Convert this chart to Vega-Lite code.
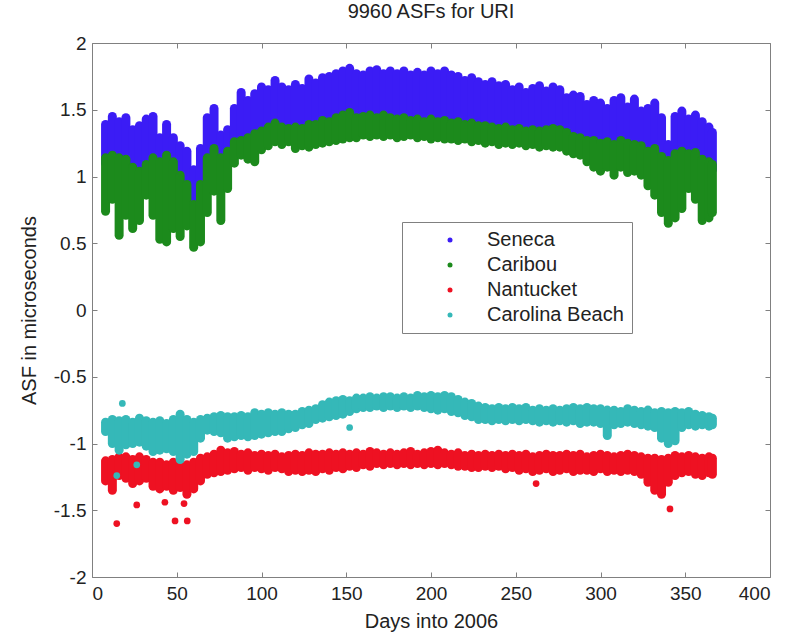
{
"$schema":"https://vega.github.io/schema/vega-lite/v6.json",
"width":678,"height":534,
"autosize":"none",
"padding":{"left":92,"top":43,"right":32,"bottom":60},
"background":"white",
"title":{"text":"9960 ASFs for URI","fontSize":20,"font":"Liberation Sans","fontWeight":"normal","color":"#222222","offset":12},
"config":{
"view":{"stroke":"#808080","strokeWidth":1},
"font":"Liberation Sans",
"axis":{"grid":false,"domain":false,"tickColor":"#808080","tickSize":-5,"labelFont":"Liberation Sans","labelFontSize":19,"labelColor":"#222222","titleFont":"Liberation Sans","titleFontSize":20,"titleFontWeight":"normal","titleColor":"#222222"}
},
"datasets":{
"bands":[
{"day":8,"site":"Seneca","lo":1.10,"hi":1.39},{"day":12,"site":"Seneca","lo":1.12,"hi":1.45},{"day":16,"site":"Seneca","lo":1.10,"hi":1.41},{"day":20,"site":"Seneca","lo":1.09,"hi":1.44},{"day":24,"site":"Seneca","lo":1.03,"hi":1.35},{"day":28,"site":"Seneca","lo":1.00,"hi":1.38},{"day":32,"site":"Seneca","lo":1.05,"hi":1.43},{"day":36,"site":"Seneca","lo":1.10,"hi":1.45},{"day":40,"site":"Seneca","lo":1.07,"hi":1.29},{"day":44,"site":"Seneca","lo":1.12,"hi":1.39},{"day":48,"site":"Seneca","lo":1.07,"hi":1.29},{"day":52,"site":"Seneca","lo":0.97,"hi":1.23},{"day":56,"site":"Seneca","lo":0.90,"hi":1.19},{"day":60,"site":"Seneca","lo":0.78,"hi":1.05},{"day":64,"site":"Seneca","lo":0.90,"hi":1.21},{"day":68,"site":"Seneca","lo":1.10,"hi":1.44},{"day":72,"site":"Seneca","lo":1.17,"hi":1.51},{"day":76,"site":"Seneca","lo":1.10,"hi":1.31},{"day":80,"site":"Seneca","lo":1.15,"hi":1.35},{"day":84,"site":"Seneca","lo":1.22,"hi":1.51},{"day":88,"site":"Seneca","lo":1.23,"hi":1.63},{"day":92,"site":"Seneca","lo":1.25,"hi":1.57},{"day":96,"site":"Seneca","lo":1.28,"hi":1.62},{"day":100,"site":"Seneca","lo":1.30,"hi":1.67},{"day":104,"site":"Seneca","lo":1.33,"hi":1.65},{"day":108,"site":"Seneca","lo":1.36,"hi":1.72},{"day":112,"site":"Seneca","lo":1.33,"hi":1.67},{"day":116,"site":"Seneca","lo":1.32,"hi":1.65},{"day":120,"site":"Seneca","lo":1.33,"hi":1.69},{"day":124,"site":"Seneca","lo":1.32,"hi":1.66},{"day":128,"site":"Seneca","lo":1.35,"hi":1.73},{"day":132,"site":"Seneca","lo":1.35,"hi":1.70},{"day":136,"site":"Seneca","lo":1.38,"hi":1.74},{"day":140,"site":"Seneca","lo":1.37,"hi":1.75},{"day":144,"site":"Seneca","lo":1.40,"hi":1.77},{"day":148,"site":"Seneca","lo":1.42,"hi":1.79},{"day":152,"site":"Seneca","lo":1.44,"hi":1.81},{"day":156,"site":"Seneca","lo":1.40,"hi":1.77},{"day":160,"site":"Seneca","lo":1.41,"hi":1.76},{"day":164,"site":"Seneca","lo":1.42,"hi":1.79},{"day":168,"site":"Seneca","lo":1.40,"hi":1.80},{"day":172,"site":"Seneca","lo":1.42,"hi":1.77},{"day":176,"site":"Seneca","lo":1.40,"hi":1.79},{"day":180,"site":"Seneca","lo":1.39,"hi":1.77},{"day":184,"site":"Seneca","lo":1.40,"hi":1.79},{"day":188,"site":"Seneca","lo":1.38,"hi":1.76},{"day":192,"site":"Seneca","lo":1.39,"hi":1.78},{"day":196,"site":"Seneca","lo":1.37,"hi":1.76},{"day":200,"site":"Seneca","lo":1.39,"hi":1.79},{"day":204,"site":"Seneca","lo":1.37,"hi":1.77},{"day":208,"site":"Seneca","lo":1.38,"hi":1.79},{"day":212,"site":"Seneca","lo":1.36,"hi":1.76},{"day":216,"site":"Seneca","lo":1.37,"hi":1.75},{"day":220,"site":"Seneca","lo":1.35,"hi":1.72},{"day":224,"site":"Seneca","lo":1.36,"hi":1.74},{"day":228,"site":"Seneca","lo":1.34,"hi":1.71},{"day":232,"site":"Seneca","lo":1.34,"hi":1.69},{"day":236,"site":"Seneca","lo":1.33,"hi":1.71},{"day":240,"site":"Seneca","lo":1.32,"hi":1.68},{"day":244,"site":"Seneca","lo":1.33,"hi":1.69},{"day":248,"site":"Seneca","lo":1.31,"hi":1.65},{"day":252,"site":"Seneca","lo":1.32,"hi":1.67},{"day":256,"site":"Seneca","lo":1.30,"hi":1.63},{"day":260,"site":"Seneca","lo":1.31,"hi":1.66},{"day":264,"site":"Seneca","lo":1.30,"hi":1.68},{"day":268,"site":"Seneca","lo":1.31,"hi":1.64},{"day":272,"site":"Seneca","lo":1.32,"hi":1.67},{"day":276,"site":"Seneca","lo":1.31,"hi":1.65},{"day":280,"site":"Seneca","lo":1.29,"hi":1.59},{"day":284,"site":"Seneca","lo":1.26,"hi":1.61},{"day":288,"site":"Seneca","lo":1.25,"hi":1.60},{"day":292,"site":"Seneca","lo":1.23,"hi":1.54},{"day":296,"site":"Seneca","lo":1.23,"hi":1.57},{"day":300,"site":"Seneca","lo":1.21,"hi":1.55},{"day":304,"site":"Seneca","lo":1.22,"hi":1.51},{"day":308,"site":"Seneca","lo":1.20,"hi":1.57},{"day":312,"site":"Seneca","lo":1.23,"hi":1.59},{"day":316,"site":"Seneca","lo":1.21,"hi":1.52},{"day":320,"site":"Seneca","lo":1.20,"hi":1.58},{"day":324,"site":"Seneca","lo":1.19,"hi":1.49},{"day":328,"site":"Seneca","lo":1.15,"hi":1.51},{"day":332,"site":"Seneca","lo":1.17,"hi":1.55},{"day":336,"site":"Seneca","lo":1.11,"hi":1.44},{"day":340,"site":"Seneca","lo":1.08,"hi":1.24},{"day":344,"site":"Seneca","lo":1.13,"hi":1.45},{"day":348,"site":"Seneca","lo":1.15,"hi":1.49},{"day":352,"site":"Seneca","lo":1.13,"hi":1.43},{"day":356,"site":"Seneca","lo":1.14,"hi":1.46},{"day":360,"site":"Seneca","lo":1.09,"hi":1.41},{"day":364,"site":"Seneca","lo":1.07,"hi":1.37},{"day":366,"site":"Seneca","lo":1.05,"hi":1.33},
{"day":8,"site":"Caribou","lo":0.74,"hi":1.14},{"day":12,"site":"Caribou","lo":0.83,"hi":1.16},{"day":16,"site":"Caribou","lo":0.56,"hi":1.14},{"day":20,"site":"Caribou","lo":0.71,"hi":1.13},{"day":24,"site":"Caribou","lo":0.61,"hi":1.07},{"day":28,"site":"Caribou","lo":0.67,"hi":1.04},{"day":32,"site":"Caribou","lo":0.86,"hi":1.09},{"day":36,"site":"Caribou","lo":0.71,"hi":1.14},{"day":40,"site":"Caribou","lo":0.53,"hi":1.11},{"day":44,"site":"Caribou","lo":0.51,"hi":1.16},{"day":48,"site":"Caribou","lo":0.61,"hi":1.11},{"day":52,"site":"Caribou","lo":0.55,"hi":1.01},{"day":56,"site":"Caribou","lo":0.63,"hi":0.94},{"day":60,"site":"Caribou","lo":0.47,"hi":0.79},{"day":64,"site":"Caribou","lo":0.51,"hi":0.94},{"day":68,"site":"Caribou","lo":0.73,"hi":1.14},{"day":72,"site":"Caribou","lo":0.89,"hi":1.21},{"day":76,"site":"Caribou","lo":0.67,"hi":1.14},{"day":80,"site":"Caribou","lo":0.91,"hi":1.19},{"day":84,"site":"Caribou","lo":1.10,"hi":1.26},{"day":88,"site":"Caribou","lo":1.16,"hi":1.27},{"day":92,"site":"Caribou","lo":1.13,"hi":1.29},{"day":96,"site":"Caribou","lo":1.11,"hi":1.32},{"day":100,"site":"Caribou","lo":1.20,"hi":1.34},{"day":104,"site":"Caribou","lo":1.23,"hi":1.37},{"day":108,"site":"Caribou","lo":1.26,"hi":1.40},{"day":112,"site":"Caribou","lo":1.24,"hi":1.37},{"day":116,"site":"Caribou","lo":1.26,"hi":1.36},{"day":120,"site":"Caribou","lo":1.21,"hi":1.37},{"day":124,"site":"Caribou","lo":1.23,"hi":1.36},{"day":128,"site":"Caribou","lo":1.22,"hi":1.39},{"day":132,"site":"Caribou","lo":1.24,"hi":1.39},{"day":136,"site":"Caribou","lo":1.25,"hi":1.42},{"day":140,"site":"Caribou","lo":1.26,"hi":1.41},{"day":144,"site":"Caribou","lo":1.27,"hi":1.44},{"day":148,"site":"Caribou","lo":1.28,"hi":1.46},{"day":152,"site":"Caribou","lo":1.29,"hi":1.48},{"day":156,"site":"Caribou","lo":1.29,"hi":1.44},{"day":160,"site":"Caribou","lo":1.31,"hi":1.45},{"day":164,"site":"Caribou","lo":1.30,"hi":1.46},{"day":168,"site":"Caribou","lo":1.31,"hi":1.44},{"day":172,"site":"Caribou","lo":1.30,"hi":1.46},{"day":176,"site":"Caribou","lo":1.31,"hi":1.44},{"day":180,"site":"Caribou","lo":1.29,"hi":1.43},{"day":184,"site":"Caribou","lo":1.30,"hi":1.44},{"day":188,"site":"Caribou","lo":1.31,"hi":1.42},{"day":192,"site":"Caribou","lo":1.29,"hi":1.43},{"day":196,"site":"Caribou","lo":1.30,"hi":1.41},{"day":200,"site":"Caribou","lo":1.28,"hi":1.43},{"day":204,"site":"Caribou","lo":1.29,"hi":1.41},{"day":208,"site":"Caribou","lo":1.28,"hi":1.42},{"day":212,"site":"Caribou","lo":1.28,"hi":1.40},{"day":216,"site":"Caribou","lo":1.27,"hi":1.41},{"day":220,"site":"Caribou","lo":1.28,"hi":1.39},{"day":224,"site":"Caribou","lo":1.26,"hi":1.40},{"day":228,"site":"Caribou","lo":1.27,"hi":1.38},{"day":232,"site":"Caribou","lo":1.25,"hi":1.38},{"day":236,"site":"Caribou","lo":1.26,"hi":1.37},{"day":240,"site":"Caribou","lo":1.24,"hi":1.36},{"day":244,"site":"Caribou","lo":1.25,"hi":1.37},{"day":248,"site":"Caribou","lo":1.24,"hi":1.35},{"day":252,"site":"Caribou","lo":1.25,"hi":1.36},{"day":256,"site":"Caribou","lo":1.23,"hi":1.34},{"day":260,"site":"Caribou","lo":1.24,"hi":1.35},{"day":264,"site":"Caribou","lo":1.22,"hi":1.34},{"day":268,"site":"Caribou","lo":1.23,"hi":1.35},{"day":272,"site":"Caribou","lo":1.22,"hi":1.36},{"day":276,"site":"Caribou","lo":1.22,"hi":1.35},{"day":280,"site":"Caribou","lo":1.19,"hi":1.33},{"day":284,"site":"Caribou","lo":1.17,"hi":1.30},{"day":288,"site":"Caribou","lo":1.16,"hi":1.29},{"day":292,"site":"Caribou","lo":1.11,"hi":1.27},{"day":296,"site":"Caribou","lo":1.07,"hi":1.27},{"day":300,"site":"Caribou","lo":1.04,"hi":1.25},{"day":304,"site":"Caribou","lo":1.07,"hi":1.26},{"day":308,"site":"Caribou","lo":1.01,"hi":1.24},{"day":312,"site":"Caribou","lo":1.07,"hi":1.27},{"day":316,"site":"Caribou","lo":1.03,"hi":1.25},{"day":320,"site":"Caribou","lo":1.04,"hi":1.24},{"day":324,"site":"Caribou","lo":1.01,"hi":1.23},{"day":328,"site":"Caribou","lo":0.93,"hi":1.19},{"day":332,"site":"Caribou","lo":0.86,"hi":1.21},{"day":336,"site":"Caribou","lo":0.73,"hi":1.15},{"day":340,"site":"Caribou","lo":0.65,"hi":1.12},{"day":344,"site":"Caribou","lo":0.69,"hi":1.17},{"day":348,"site":"Caribou","lo":0.76,"hi":1.19},{"day":352,"site":"Caribou","lo":0.91,"hi":1.17},{"day":356,"site":"Caribou","lo":0.83,"hi":1.18},{"day":360,"site":"Caribou","lo":0.67,"hi":1.13},{"day":364,"site":"Caribou","lo":0.69,"hi":1.11},{"day":366,"site":"Caribou","lo":0.73,"hi":1.09},
{"day":8,"site":"Nantucket","lo":-1.28,"hi":-1.13},{"day":12,"site":"Nantucket","lo":-1.35,"hi":-1.12},{"day":16,"site":"Nantucket","lo":-1.24,"hi":-1.10},{"day":20,"site":"Nantucket","lo":-1.26,"hi":-1.10},{"day":24,"site":"Nantucket","lo":-1.30,"hi":-1.12},{"day":28,"site":"Nantucket","lo":-1.28,"hi":-1.10},{"day":32,"site":"Nantucket","lo":-1.26,"hi":-1.12},{"day":36,"site":"Nantucket","lo":-1.32,"hi":-1.14},{"day":40,"site":"Nantucket","lo":-1.34,"hi":-1.14},{"day":44,"site":"Nantucket","lo":-1.32,"hi":-1.16},{"day":48,"site":"Nantucket","lo":-1.35,"hi":-1.14},{"day":52,"site":"Nantucket","lo":-1.33,"hi":-1.16},{"day":56,"site":"Nantucket","lo":-1.38,"hi":-1.16},{"day":60,"site":"Nantucket","lo":-1.34,"hi":-1.14},{"day":64,"site":"Nantucket","lo":-1.28,"hi":-1.11},{"day":68,"site":"Nantucket","lo":-1.23,"hi":-1.10},{"day":72,"site":"Nantucket","lo":-1.22,"hi":-1.08},{"day":76,"site":"Nantucket","lo":-1.21,"hi":-1.05},{"day":80,"site":"Nantucket","lo":-1.20,"hi":-1.07},{"day":84,"site":"Nantucket","lo":-1.19,"hi":-1.06},{"day":88,"site":"Nantucket","lo":-1.18,"hi":-1.08},{"day":92,"site":"Nantucket","lo":-1.20,"hi":-1.07},{"day":96,"site":"Nantucket","lo":-1.18,"hi":-1.09},{"day":100,"site":"Nantucket","lo":-1.19,"hi":-1.08},{"day":104,"site":"Nantucket","lo":-1.20,"hi":-1.09},{"day":108,"site":"Nantucket","lo":-1.18,"hi":-1.08},{"day":112,"site":"Nantucket","lo":-1.19,"hi":-1.10},{"day":116,"site":"Nantucket","lo":-1.21,"hi":-1.09},{"day":120,"site":"Nantucket","lo":-1.20,"hi":-1.08},{"day":124,"site":"Nantucket","lo":-1.21,"hi":-1.09},{"day":128,"site":"Nantucket","lo":-1.20,"hi":-1.07},{"day":132,"site":"Nantucket","lo":-1.21,"hi":-1.08},{"day":136,"site":"Nantucket","lo":-1.19,"hi":-1.08},{"day":140,"site":"Nantucket","lo":-1.20,"hi":-1.07},{"day":144,"site":"Nantucket","lo":-1.18,"hi":-1.08},{"day":148,"site":"Nantucket","lo":-1.19,"hi":-1.07},{"day":152,"site":"Nantucket","lo":-1.17,"hi":-1.08},{"day":156,"site":"Nantucket","lo":-1.18,"hi":-1.07},{"day":160,"site":"Nantucket","lo":-1.16,"hi":-1.08},{"day":164,"site":"Nantucket","lo":-1.17,"hi":-1.06},{"day":168,"site":"Nantucket","lo":-1.15,"hi":-1.07},{"day":172,"site":"Nantucket","lo":-1.16,"hi":-1.08},{"day":176,"site":"Nantucket","lo":-1.15,"hi":-1.07},{"day":180,"site":"Nantucket","lo":-1.16,"hi":-1.08},{"day":184,"site":"Nantucket","lo":-1.15,"hi":-1.07},{"day":188,"site":"Nantucket","lo":-1.16,"hi":-1.06},{"day":192,"site":"Nantucket","lo":-1.15,"hi":-1.08},{"day":196,"site":"Nantucket","lo":-1.16,"hi":-1.07},{"day":200,"site":"Nantucket","lo":-1.15,"hi":-1.06},{"day":204,"site":"Nantucket","lo":-1.16,"hi":-1.05},{"day":208,"site":"Nantucket","lo":-1.15,"hi":-1.07},{"day":212,"site":"Nantucket","lo":-1.16,"hi":-1.08},{"day":216,"site":"Nantucket","lo":-1.17,"hi":-1.07},{"day":220,"site":"Nantucket","lo":-1.17,"hi":-1.09},{"day":224,"site":"Nantucket","lo":-1.18,"hi":-1.08},{"day":228,"site":"Nantucket","lo":-1.18,"hi":-1.09},{"day":232,"site":"Nantucket","lo":-1.17,"hi":-1.08},{"day":236,"site":"Nantucket","lo":-1.18,"hi":-1.09},{"day":240,"site":"Nantucket","lo":-1.17,"hi":-1.08},{"day":244,"site":"Nantucket","lo":-1.19,"hi":-1.09},{"day":248,"site":"Nantucket","lo":-1.18,"hi":-1.08},{"day":252,"site":"Nantucket","lo":-1.20,"hi":-1.09},{"day":256,"site":"Nantucket","lo":-1.19,"hi":-1.08},{"day":260,"site":"Nantucket","lo":-1.21,"hi":-1.10},{"day":264,"site":"Nantucket","lo":-1.20,"hi":-1.09},{"day":268,"site":"Nantucket","lo":-1.19,"hi":-1.08},{"day":272,"site":"Nantucket","lo":-1.21,"hi":-1.09},{"day":276,"site":"Nantucket","lo":-1.20,"hi":-1.09},{"day":280,"site":"Nantucket","lo":-1.19,"hi":-1.08},{"day":284,"site":"Nantucket","lo":-1.21,"hi":-1.09},{"day":288,"site":"Nantucket","lo":-1.20,"hi":-1.08},{"day":292,"site":"Nantucket","lo":-1.20,"hi":-1.10},{"day":296,"site":"Nantucket","lo":-1.21,"hi":-1.09},{"day":300,"site":"Nantucket","lo":-1.19,"hi":-1.08},{"day":304,"site":"Nantucket","lo":-1.21,"hi":-1.09},{"day":308,"site":"Nantucket","lo":-1.20,"hi":-1.10},{"day":312,"site":"Nantucket","lo":-1.21,"hi":-1.09},{"day":316,"site":"Nantucket","lo":-1.20,"hi":-1.08},{"day":320,"site":"Nantucket","lo":-1.21,"hi":-1.09},{"day":324,"site":"Nantucket","lo":-1.23,"hi":-1.10},{"day":328,"site":"Nantucket","lo":-1.29,"hi":-1.11},{"day":332,"site":"Nantucket","lo":-1.35,"hi":-1.11},{"day":336,"site":"Nantucket","lo":-1.38,"hi":-1.12},{"day":340,"site":"Nantucket","lo":-1.29,"hi":-1.11},{"day":344,"site":"Nantucket","lo":-1.24,"hi":-1.09},{"day":348,"site":"Nantucket","lo":-1.22,"hi":-1.10},{"day":352,"site":"Nantucket","lo":-1.21,"hi":-1.09},{"day":356,"site":"Nantucket","lo":-1.23,"hi":-1.10},{"day":360,"site":"Nantucket","lo":-1.24,"hi":-1.11},{"day":364,"site":"Nantucket","lo":-1.22,"hi":-1.10},{"day":366,"site":"Nantucket","lo":-1.23,"hi":-1.11},
{"day":8,"site":"Carolina Beach","lo":-0.91,"hi":-0.84},{"day":12,"site":"Carolina Beach","lo":-1.00,"hi":-0.82},{"day":16,"site":"Carolina Beach","lo":-1.05,"hi":-0.83},{"day":20,"site":"Carolina Beach","lo":-1.01,"hi":-0.82},{"day":24,"site":"Carolina Beach","lo":-1.00,"hi":-0.84},{"day":28,"site":"Carolina Beach","lo":-0.99,"hi":-0.81},{"day":32,"site":"Carolina Beach","lo":-1.02,"hi":-0.83},{"day":36,"site":"Carolina Beach","lo":-1.06,"hi":-0.84},{"day":40,"site":"Carolina Beach","lo":-1.05,"hi":-0.83},{"day":44,"site":"Carolina Beach","lo":-1.04,"hi":-0.85},{"day":48,"site":"Carolina Beach","lo":-1.06,"hi":-0.82},{"day":52,"site":"Carolina Beach","lo":-1.12,"hi":-0.78},{"day":56,"site":"Carolina Beach","lo":-1.08,"hi":-0.82},{"day":60,"site":"Carolina Beach","lo":-1.06,"hi":-0.84},{"day":64,"site":"Carolina Beach","lo":-0.96,"hi":-0.82},{"day":68,"site":"Carolina Beach","lo":-0.90,"hi":-0.81},{"day":72,"site":"Carolina Beach","lo":-0.91,"hi":-0.80},{"day":76,"site":"Carolina Beach","lo":-0.92,"hi":-0.79},{"day":80,"site":"Carolina Beach","lo":-0.96,"hi":-0.80},{"day":84,"site":"Carolina Beach","lo":-0.95,"hi":-0.80},{"day":88,"site":"Carolina Beach","lo":-0.94,"hi":-0.79},{"day":92,"site":"Carolina Beach","lo":-0.95,"hi":-0.80},{"day":96,"site":"Carolina Beach","lo":-0.94,"hi":-0.77},{"day":100,"site":"Carolina Beach","lo":-0.93,"hi":-0.78},{"day":104,"site":"Carolina Beach","lo":-0.92,"hi":-0.77},{"day":108,"site":"Carolina Beach","lo":-0.91,"hi":-0.78},{"day":112,"site":"Carolina Beach","lo":-0.91,"hi":-0.77},{"day":116,"site":"Carolina Beach","lo":-0.89,"hi":-0.78},{"day":120,"site":"Carolina Beach","lo":-0.88,"hi":-0.78},{"day":124,"site":"Carolina Beach","lo":-0.86,"hi":-0.76},{"day":128,"site":"Carolina Beach","lo":-0.85,"hi":-0.75},{"day":132,"site":"Carolina Beach","lo":-0.82,"hi":-0.74},{"day":136,"site":"Carolina Beach","lo":-0.81,"hi":-0.71},{"day":140,"site":"Carolina Beach","lo":-0.80,"hi":-0.69},{"day":144,"site":"Carolina Beach","lo":-0.79,"hi":-0.68},{"day":148,"site":"Carolina Beach","lo":-0.78,"hi":-0.67},{"day":152,"site":"Carolina Beach","lo":-0.76,"hi":-0.68},{"day":156,"site":"Carolina Beach","lo":-0.74,"hi":-0.66},{"day":160,"site":"Carolina Beach","lo":-0.73,"hi":-0.66},{"day":164,"site":"Carolina Beach","lo":-0.73,"hi":-0.65},{"day":168,"site":"Carolina Beach","lo":-0.72,"hi":-0.66},{"day":172,"site":"Carolina Beach","lo":-0.73,"hi":-0.65},{"day":176,"site":"Carolina Beach","lo":-0.72,"hi":-0.65},{"day":180,"site":"Carolina Beach","lo":-0.73,"hi":-0.66},{"day":184,"site":"Carolina Beach","lo":-0.72,"hi":-0.65},{"day":188,"site":"Carolina Beach","lo":-0.73,"hi":-0.66},{"day":192,"site":"Carolina Beach","lo":-0.72,"hi":-0.64},{"day":196,"site":"Carolina Beach","lo":-0.73,"hi":-0.65},{"day":200,"site":"Carolina Beach","lo":-0.74,"hi":-0.64},{"day":204,"site":"Carolina Beach","lo":-0.75,"hi":-0.65},{"day":208,"site":"Carolina Beach","lo":-0.74,"hi":-0.64},{"day":212,"site":"Carolina Beach","lo":-0.76,"hi":-0.65},{"day":216,"site":"Carolina Beach","lo":-0.77,"hi":-0.67},{"day":220,"site":"Carolina Beach","lo":-0.79,"hi":-0.69},{"day":224,"site":"Carolina Beach","lo":-0.80,"hi":-0.70},{"day":228,"site":"Carolina Beach","lo":-0.82,"hi":-0.72},{"day":232,"site":"Carolina Beach","lo":-0.82,"hi":-0.73},{"day":236,"site":"Carolina Beach","lo":-0.83,"hi":-0.74},{"day":240,"site":"Carolina Beach","lo":-0.82,"hi":-0.73},{"day":244,"site":"Carolina Beach","lo":-0.83,"hi":-0.74},{"day":248,"site":"Carolina Beach","lo":-0.82,"hi":-0.73},{"day":252,"site":"Carolina Beach","lo":-0.83,"hi":-0.74},{"day":256,"site":"Carolina Beach","lo":-0.82,"hi":-0.73},{"day":260,"site":"Carolina Beach","lo":-0.83,"hi":-0.75},{"day":264,"site":"Carolina Beach","lo":-0.84,"hi":-0.74},{"day":268,"site":"Carolina Beach","lo":-0.83,"hi":-0.75},{"day":272,"site":"Carolina Beach","lo":-0.84,"hi":-0.74},{"day":276,"site":"Carolina Beach","lo":-0.83,"hi":-0.75},{"day":280,"site":"Carolina Beach","lo":-0.84,"hi":-0.74},{"day":284,"site":"Carolina Beach","lo":-0.83,"hi":-0.73},{"day":288,"site":"Carolina Beach","lo":-0.85,"hi":-0.74},{"day":292,"site":"Carolina Beach","lo":-0.84,"hi":-0.73},{"day":296,"site":"Carolina Beach","lo":-0.84,"hi":-0.74},{"day":300,"site":"Carolina Beach","lo":-0.85,"hi":-0.74},{"day":304,"site":"Carolina Beach","lo":-0.94,"hi":-0.75},{"day":308,"site":"Carolina Beach","lo":-0.86,"hi":-0.75},{"day":312,"site":"Carolina Beach","lo":-0.85,"hi":-0.76},{"day":316,"site":"Carolina Beach","lo":-0.84,"hi":-0.74},{"day":320,"site":"Carolina Beach","lo":-0.85,"hi":-0.75},{"day":324,"site":"Carolina Beach","lo":-0.86,"hi":-0.76},{"day":328,"site":"Carolina Beach","lo":-0.87,"hi":-0.75},{"day":332,"site":"Carolina Beach","lo":-0.88,"hi":-0.77},{"day":336,"site":"Carolina Beach","lo":-0.96,"hi":-0.76},{"day":340,"site":"Carolina Beach","lo":-1.00,"hi":-0.77},{"day":344,"site":"Carolina Beach","lo":-0.98,"hi":-0.76},{"day":348,"site":"Carolina Beach","lo":-0.88,"hi":-0.77},{"day":352,"site":"Carolina Beach","lo":-0.86,"hi":-0.76},{"day":356,"site":"Carolina Beach","lo":-0.87,"hi":-0.78},{"day":360,"site":"Carolina Beach","lo":-0.86,"hi":-0.79},{"day":364,"site":"Carolina Beach","lo":-0.87,"hi":-0.80},{"day":366,"site":"Carolina Beach","lo":-0.86,"hi":-0.81}
],
"outliers":[
{"day":14.6,"site":"Nantucket","v":-1.60},{"day":26.4,"site":"Nantucket","v":-1.46},{"day":43,"site":"Nantucket","v":-1.44},{"day":49,"site":"Nantucket","v":-1.58},{"day":54.3,"site":"Nantucket","v":-1.45},{"day":56.2,"site":"Nantucket","v":-1.58},{"day":262,"site":"Nantucket","v":-1.30},{"day":341,"site":"Nantucket","v":-1.49},
{"day":17.9,"site":"Carolina Beach","v":-0.70},{"day":14.6,"site":"Carolina Beach","v":-1.24},{"day":26.4,"site":"Carolina Beach","v":-1.16},{"day":152,"site":"Carolina Beach","v":-0.88}
]
},
"layer":[
{"data":{"name":"bands"},
"mark":{"type":"rule","strokeWidth":9,"strokeCap":"round"},
"encoding":{
"x":{"field":"day","type":"quantitative","scale":{"domain":[0,400],"nice":false,"zero":false},"axis":{"orient":"bottom","values":[0,50,100,150,200,250,300,350,400],"title":"Days into 2006","labelPadding":12,"titlePadding":8}},
"y":{"field":"lo","type":"quantitative","scale":{"domain":[-2,2],"nice":false,"zero":false},"axis":{"orient":"left","values":[-2,-1.5,-1,-0.5,0,0.5,1,1.5,2],"labelExpr":"'' + datum.value","title":"ASF in microseconds","labelPadding":11,"titlePadding":14}},
"y2":{"field":"hi"},
"color":{"field":"site","type":"nominal","scale":{"domain":["Seneca","Caribou","Nantucket","Carolina Beach"],"range":["#3b1cf5","#1c8a1c","#ee1122","#35b8b8"]},
"legend":{"title":null,"orient":"none","legendX":310,"legendY":179,"direction":"vertical","padding":8,"fillColor":"white","strokeColor":"#808080","labelFont":"Liberation Sans","labelFontSize":20,"labelColor":"#222222","symbolType":"circle","symbolSize":25,"symbolStrokeWidth":0,"rowPadding":5,"symbolOffset":30,"labelOffset":27,
"encode":{"symbols":{"update":{"fill":{"scale":"color","field":"value"},"stroke":{"value":"transparent"},"opacity":{"value":1}}}}}}
}},
{"data":{"name":"outliers"},
"mark":{"type":"point","filled":true,"size":45,"opacity":1},
"encoding":{
"x":{"field":"day","type":"quantitative","axis":{"orient":"top","values":[0,50,100,150,200,250,300,350,400],"labels":false,"title":null}},
"y":{"field":"v","type":"quantitative","axis":{"orient":"right","values":[-2,-1.5,-1,-0.5,0,0.5,1,1.5,2],"labels":false,"title":null}},
"color":{"field":"site","type":"nominal"}
}}
],
"resolve":{"axis":{"x":"independent","y":"independent"}}
}
